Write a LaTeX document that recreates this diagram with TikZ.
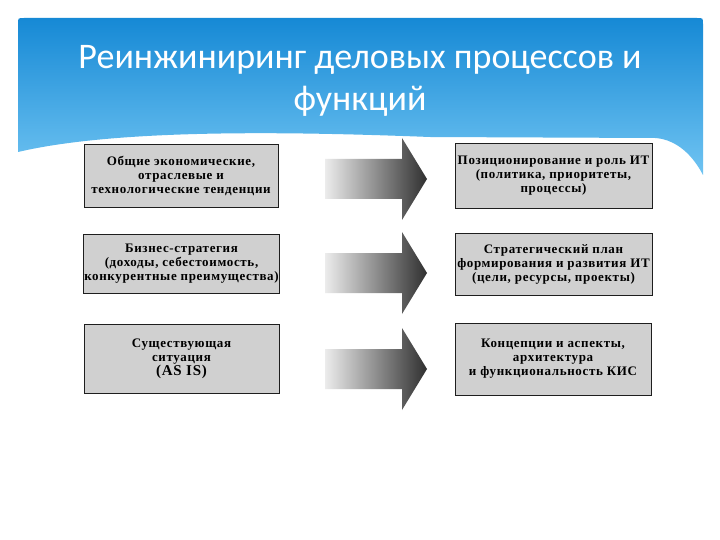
\documentclass[tikz,border=0pt]{standalone}
\usepackage{fontspec}
\setmainfont{Liberation Serif}
\newfontfamily\titlefont{Carlito}
\usetikzlibrary{positioning}
\definecolor{hdrtop}{RGB}{22,137,213}
\definecolor{hdrbot}{RGB}{112,196,242}
\definecolor{boxgray}{RGB}{208,208,208}
\definecolor{boxline}{RGB}{30,30,30}
\definecolor{arrlight}{RGB}{236,236,236}
\definecolor{arrdark}{RGB}{48,48,48}
\tikzset{
    box/.style={rectangle, draw=boxline, line width=0.9pt, fill=boxgray, align=center, inner sep=1pt, font=\fontsize{13}{14}\selectfont\bfseries\addfontfeature{LetterSpace=5}},
    title/.style={text=white, align=center, font=\titlefont\fontsize{36}{42}\selectfont},
    bigarrow/.style={left color=arrlight, right color=arrdark}
}
\newcommand{\blockarrow}[1]{%
    \shade[bigarrow] (325,#1-20) -- (402,#1-20) -- (402,#1-41) -- (427,#1) -- (402,#1+41) -- (402,#1+20) -- (325,#1+20) -- cycle;}

\begin{document}
\begin{tikzpicture}[x=1pt, y=-1pt]
    \fill[white] (0,0) rectangle (720,540);
    \useasboundingbox (0,0) rectangle (720,540);
    % header with wave
    \shade[top color=hdrtop, bottom color=hdrbot] (18,152) -- (18,24) .. controls (18,18) .. (24,18) -- (697,18) .. controls (703,18) .. (703,24) -- (703,175) .. controls (690,150) and (672,139) .. (655,138) -- (430,137) .. controls (300,132) and (120,128) .. (18,152) -- cycle;
    \node[title] (ttl) at (360,81) {Реинжиниринг деловых процессов и\\функций};

    % left column
    \node[box, minimum width=194pt, minimum height=63pt] (trends) at (181,175.5) {Общие экономические,\\отраслевые и\\технологические тенденции};
    \node[box, minimum width=195pt, minimum height=59pt] (strat) at (181.5,263.5) {Бизнес-стратегия\\(доходы, себестоимость,\\конкурентные преимущества)};
    \node[box, minimum width=195pt, minimum height=69pt] (asis) at (181.5,358.5) {Существующая\\ситуация\\{\fontsize{15}{17}\selectfont (AS IS)}};

    % right column
    \node[box, minimum width=197pt, minimum height=65pt] (role) at (553.5,175.5) {Позиционирование и роль ИТ\\(политика, приоритеты,\\процессы)};
    \node[box, minimum width=197pt, minimum height=62pt] (plan) at (553.5,264) {Стратегический план\\формирования и развития ИТ\\(цели, ресурсы, проекты)};
    \node[box, minimum width=196pt, minimum height=72pt] (kis) at (553,359) {Концепции и аспекты,\\архитектура\\и функциональность КИС};

    % arrows
    \blockarrow{179}
    \blockarrow{273}
    \blockarrow{369}
\end{tikzpicture}
\end{document}
